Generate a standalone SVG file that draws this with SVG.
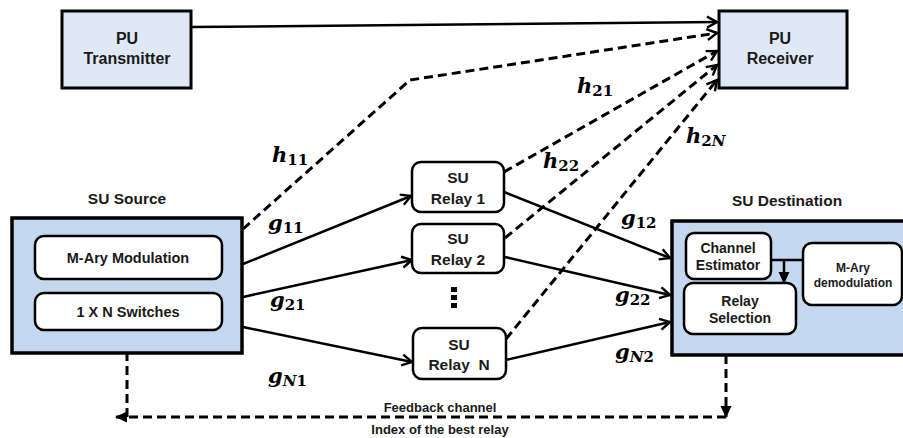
<svg xmlns="http://www.w3.org/2000/svg" width="903" height="438" viewBox="0 0 903 438">
<style>
.pu{fill:#dfe9f5;stroke:#000;stroke-width:3}
.su{fill:#c3d8ef;stroke:#000;stroke-width:3.5}
.in{fill:#fff;stroke:#000;stroke-width:2.5}
.t{font-family:"Liberation Sans",Arial,sans-serif;font-weight:bold;fill:#1a1a1a;text-anchor:middle}
.m{font-family:"DejaVu Serif","Liberation Serif",serif;font-weight:bold;font-style:italic;font-size:21px;fill:#000}
.s{font-size:15px;font-style:normal}
.i{font-style:italic}
.ln{fill:none;stroke:#000;stroke-width:2.5}
.ds{fill:none;stroke:#000;stroke-width:3;stroke-dasharray:9 5}
</style>
<defs>
<marker id="open" viewBox="0 0 14 14" refX="12" refY="7" markerWidth="14" markerHeight="14" markerUnits="userSpaceOnUse" orient="auto">
<path d="M2,1.5 L12,7 L2,12.5" fill="none" stroke="#000" stroke-width="2.4" stroke-dasharray="none"/>
</marker>
<marker id="fill" viewBox="0 0 12 12" refX="11" refY="6" markerWidth="12" markerHeight="12" markerUnits="userSpaceOnUse" orient="auto">
<path d="M0,0.5 L12,6 L0,11.5 z" fill="#000" stroke="none"/>
</marker>
</defs>

<g id="connectors">
<line class="ln" x1="191" y1="27" x2="717" y2="22" marker-end="url(#open)"/>
<polyline class="ds" points="243,229 410,80 717,33" marker-end="url(#open)"/>
<line class="ds" x1="504" y1="172" x2="717" y2="51" marker-end="url(#open)"/>
<line class="ds" x1="505" y1="238" x2="717" y2="65" marker-end="url(#open)"/>
<line class="ds" x1="506" y1="339" x2="717" y2="80" marker-end="url(#open)"/>
<line class="ln" x1="243" y1="264" x2="411" y2="196" marker-end="url(#open)"/>
<line class="ln" x1="243" y1="297" x2="412" y2="260" marker-end="url(#open)"/>
<line class="ln" x1="243" y1="327" x2="412" y2="362" marker-end="url(#open)"/>
<line class="ln" x1="504" y1="192" x2="670" y2="258" marker-end="url(#open)"/>
<line class="ln" x1="505" y1="257" x2="670" y2="295" marker-end="url(#open)"/>
<line class="ln" x1="506" y1="360" x2="670" y2="322" marker-end="url(#open)"/>
<line class="ln" x1="726" y1="334" x2="726" y2="355"/>
<line class="ds" x1="726" y1="355" x2="726" y2="417" marker-end="url(#fill)"/>
<line class="ds" x1="726" y1="417" x2="116" y2="417" marker-end="url(#fill)"/>
<line class="ds" x1="127" y1="417" x2="127" y2="353"/>
<line class="ln" x1="127" y1="353" x2="127" y2="331" marker-end="url(#fill)"/>
</g>

<g id="pu-transmitter">
<rect class="pu" x="62" y="11" width="129" height="77"/>
<text class="t" x="127" y="44" font-size="16">PU</text>
<text class="t" x="127" y="64" font-size="16">Transmitter</text>
</g>

<g id="pu-receiver">
<rect class="pu" x="719" y="11" width="128" height="77"/>
<text class="t" x="780" y="44" font-size="16">PU</text>
<text class="t" x="780" y="64" font-size="16">Receiver</text>
</g>

<g id="su-source">
<text class="t" x="127" y="204" font-size="15.5">SU Source</text>
<rect class="su" x="12" y="218" width="230" height="135"/>
<rect class="in" x="35" y="236" width="187" height="43" rx="9"/>
<text class="t" x="128" y="263" font-size="14.5">M-Ary Modulation</text>
<rect class="in" x="35" y="293" width="187" height="37" rx="9"/>
<text class="t" x="128" y="317" font-size="14.5">1 X N Switches</text>
</g>

<g id="su-relay-1">
<rect class="in" x="412" y="162" width="92" height="50" rx="9"/>
<text class="t" x="458" y="183" font-size="15.5">SU</text>
<text class="t" x="458" y="204" font-size="15.5">Relay 1</text>
</g>

<g id="su-relay-2">
<rect class="in" x="412" y="224" width="92" height="49" rx="9"/>
<text class="t" x="458" y="244" font-size="15.5">SU</text>
<text class="t" x="458" y="265" font-size="15.5">Relay 2</text>
</g>

<g id="dots">
<rect x="451" y="287" width="6" height="5" fill="#000"/>
<rect x="451" y="295" width="6" height="5" fill="#000"/>
<rect x="451" y="303" width="6" height="5" fill="#000"/>
</g>

<g id="su-relay-n">
<rect class="in" x="413" y="328" width="93" height="51" rx="9"/>
<text class="t" x="459" y="350" font-size="15.5">SU</text>
<text class="t" x="459" y="370" font-size="15.5" xml:space="preserve">Relay  N</text>
</g>

<g id="su-destination">
<text class="t" x="787" y="206" font-size="15.5">SU Destination</text>
<rect class="su" x="672" y="221" width="245" height="134"/>
<rect class="in" x="686" y="233" width="85" height="46" rx="8"/>
<text class="t" x="728" y="253" font-size="14">Channel</text>
<text class="t" x="728" y="270" font-size="14">Estimator</text>
<rect class="in" x="803" y="243" width="99" height="62" rx="9"/>
<text class="t" x="853" y="272" font-size="12">M-Ary</text>
<text class="t" x="853" y="287" font-size="12">demodulation</text>
<rect class="in" x="684" y="283" width="112" height="51" rx="9"/>
<text class="t" x="740" y="306" font-size="14">Relay</text>
<text class="t" x="740" y="323" font-size="14">Selection</text>
<line class="ln" x1="771" y1="260" x2="803" y2="260" stroke-width="2"/>
<line class="ln" x1="784" y1="260" x2="784" y2="283" stroke-width="2" marker-end="url(#fill)"/>
</g>

<g id="labels">
<text class="m" x="272" y="162">h<tspan class="s" dy="3">11</tspan></text>
<text class="m" x="268" y="230">g<tspan class="s" dy="3">11</tspan></text>
<text class="m" x="270" y="307">g<tspan class="s" dy="3">21</tspan></text>
<text class="m" x="268" y="383">g<tspan class="s" dy="3"><tspan class="i">N</tspan>1</tspan></text>
<text class="m" x="577" y="93">h<tspan class="s" dy="3">21</tspan></text>
<text class="m" x="543" y="168">h<tspan class="s" dy="3">22</tspan></text>
<text class="m" x="686" y="143">h<tspan class="s" dy="3">2<tspan class="i">N</tspan></tspan></text>
<text class="m" x="621" y="225">g<tspan class="s" dy="3">12</tspan></text>
<text class="m" x="615" y="302">g<tspan class="s" dy="3">22</tspan></text>
<text class="m" x="615" y="359">g<tspan class="s" dy="3"><tspan class="i">N</tspan>2</tspan></text>
<text class="t" x="440" y="412" font-size="13">Feedback channel</text>
<text class="t" x="440" y="434" font-size="13">Index of the best relay</text>
</g>
</svg>
